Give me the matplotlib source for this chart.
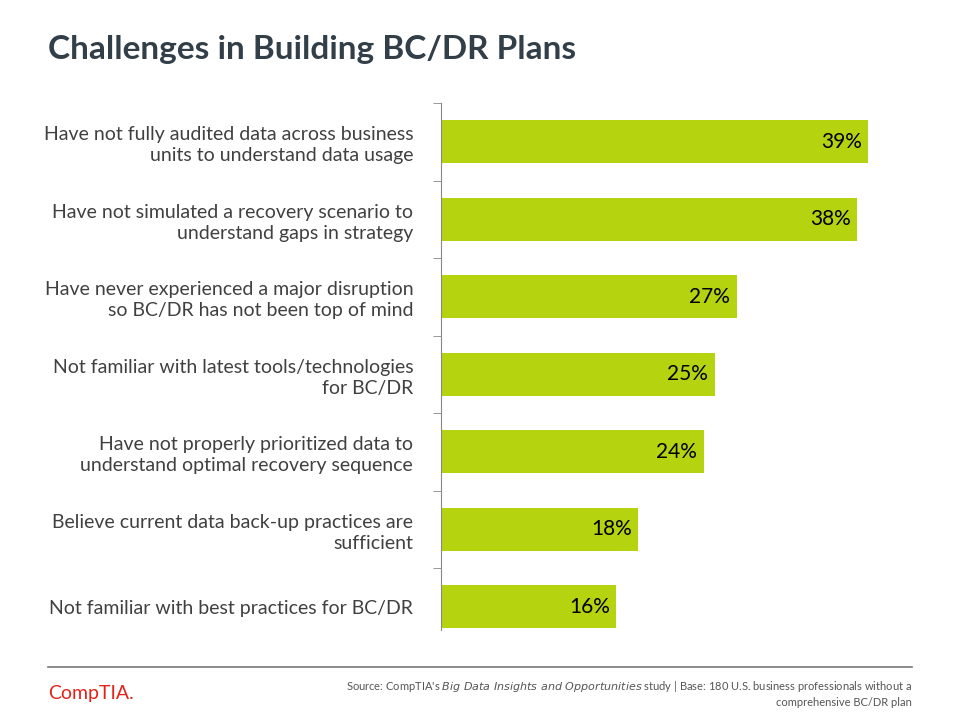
import matplotlib
matplotlib.use("Agg")
import matplotlib.pyplot as plt
from matplotlib.ticker import FixedLocator

categories = [
    "Have not fully audited data across business\nunits to understand data usage",
    "Have not simulated a recovery scenario to\nunderstand gaps in strategy",
    "Have never experienced a major disruption\nso BC/DR has not been top of mind",
    "Not familiar with latest tools/technologies\nfor BC/DR",
    "Have not properly prioritized data to\nunderstand optimal recovery sequence",
    "Believe current data back-up practices are\nsufficient",
    "Not familiar with best practices for BC/DR",
]
values = [39, 38, 27, 25, 24, 18, 16]

plt.rcParams["font.family"] = "Lato"
fig = plt.figure(figsize=(9.6, 7.2), dpi=100)
ax = fig.add_axes([441/960, 90/720, 493/960, 527/720])
ypos = list(range(len(values)))[::-1]
ax.barh(ypos, values, height=0.555, color="#b5d30f")
for y, v in zip(ypos, values):
    ax.text(v - 0.6, y, f"{v}%", ha="right", va="center", fontsize=15, color="black")
ax.set_xlim(0, 45)
ax.set_ylim(-0.3, len(values) - 0.5)
ax.set_yticks(ypos)
ax.set_yticklabels(categories, fontsize=14, color="#404040", linespacing=1.3)
ax.tick_params(axis="y", which="major", length=0, pad=20)
ax.yaxis.set_minor_locator(FixedLocator([i - 0.5 for i in range(1, len(values) + 1)]))
ax.tick_params(axis="y", which="minor", length=6, color="#888888")
ax.set_xticks([])
for s in ["top", "right", "bottom"]:
    ax.spines[s].set_visible(False)
ax.spines["left"].set_color("#888888")

fig.text(48/960, 1 - 50/720, "Challenges in Building BC/DR Plans", fontsize=24, fontweight="bold",
         color="#333f48", va="center", ha="left")
fig.add_artist(plt.Line2D([48/960, 912/960], [1 - 667/720, 1 - 667/720], color="#777777", lw=1.2))
fig.text(48/960, 1 - 693/720, "CompTIA.", fontsize=14, color="#e2231a", va="center", ha="left")
fig.text(912/960, 1 - 686/720,
         "Source: CompTIA's $\\it{Big\\ Data\\ Insights\\ and\\ Opportunities}$ study | Base: 180 U.S. business professionals without a",
         fontsize=8, color="#555555", ha="right", va="center")
fig.text(912/960, 1 - 702/720, "comprehensive BC/DR plan", fontsize=8, color="#555555", ha="right", va="center")
fig.savefig("out.png", dpi=100)
